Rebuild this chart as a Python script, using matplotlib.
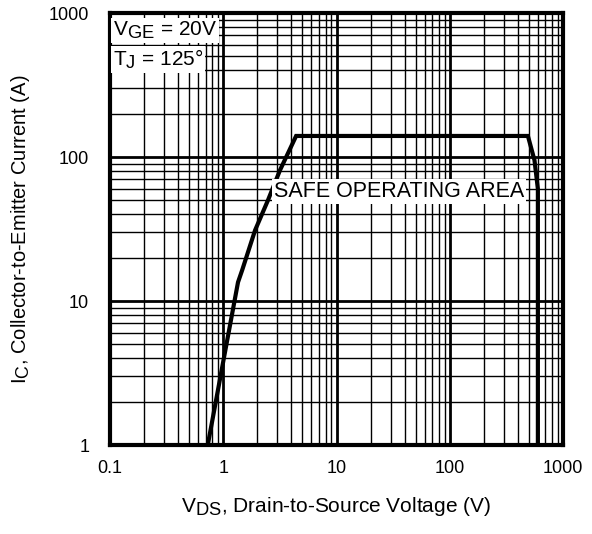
import numpy as np
import matplotlib
matplotlib.use("Agg")
import matplotlib.pyplot as plt
import matplotlib._mathtext as mt
from matplotlib.ticker import LogLocator, NullFormatter, FixedLocator, FixedFormatter

plt.rcParams['font.family'] = ['Liberation Sans', 'DejaVu Sans']
plt.rcParams['mathtext.fontset'] = 'custom'
plt.rcParams['mathtext.rm'] = 'Liberation Sans'
plt.rcParams['mathtext.it'] = 'Liberation Sans'
mt.SHRINK_FACTOR = 0.88  # datasheet subscripts are nearly full size

# SOA boundary
vds = [0.73, 1.0, 1.35, 1.47, 1.91, 2.48, 3.17, 4.4, 490, 560, 600, 600]
ic = [1.0, 3.8, 13.5, 16.4, 31, 50, 81, 140, 140, 95, 60, 1.0]

xticks = [0.1, 1, 10, 100, 1000]
xticklabels = ["0.1", "1", "10", "100", "1000"]
yticks = [1, 10, 100, 1000]
yticklabels = ["1", "10", "100", "1000"]

fig = plt.figure(figsize=(5.92, 5.34), dpi=100)
ax = fig.add_axes([110/592, 1 - 445/534, 453/592, 432/534])

ax.set_xscale('log')
ax.set_yscale('log')
ax.set_xlim(0.1, 1000)
ax.set_ylim(1, 1000)

ax.plot(vds, ic, color='black', lw=3, solid_joinstyle='miter', zorder=5)

# grid: heavy decades, light minor lines
ax.xaxis.set_major_locator(FixedLocator(xticks))
ax.xaxis.set_major_formatter(FixedFormatter(xticklabels))
ax.yaxis.set_major_locator(FixedLocator(yticks))
ax.yaxis.set_major_formatter(FixedFormatter(yticklabels))
ax.xaxis.set_minor_locator(LogLocator(base=10, subs=np.arange(2, 10)))
ax.yaxis.set_minor_locator(LogLocator(base=10, subs=np.arange(2, 10)))
ax.xaxis.set_minor_formatter(NullFormatter())
ax.yaxis.set_minor_formatter(NullFormatter())
ax.grid(which='major', color='black', lw=2)
ax.grid(which='minor', color='black', lw=1)
ax.tick_params(which='both', length=0, labelsize=13)
ax.tick_params(axis='x', pad=11)
ax.tick_params(axis='y', pad=15)

for s in ax.spines.values():
    s.set_linewidth(3)
    s.set_zorder(6)

box = dict(facecolor='white', edgecolor='none', pad=1.5)
ax.text(0.106, 692, r"V$_{\rm GE}$ = 20V", fontsize=15, va='baseline', ha='left', bbox=box, zorder=7)
ax.text(0.106, 428, r"T$_{\rm J}$ = 125°", fontsize=15, va='baseline', ha='left', bbox=box, zorder=7)
ax.text(453, 52.7, "SAFE OPERATING AREA", fontsize=15.5, va='baseline', ha='right', bbox=box, zorder=7)

ax.set_xlabel(r"V$_{\rm DS}$, Drain-to-Source Voltage (V)", fontsize=15, labelpad=13)
ax.set_ylabel(r"I$_{\rm C}$, Collector-to-Emitter Current (A)", fontsize=14.5, labelpad=12)

fig.savefig("out.png", dpi=100)
